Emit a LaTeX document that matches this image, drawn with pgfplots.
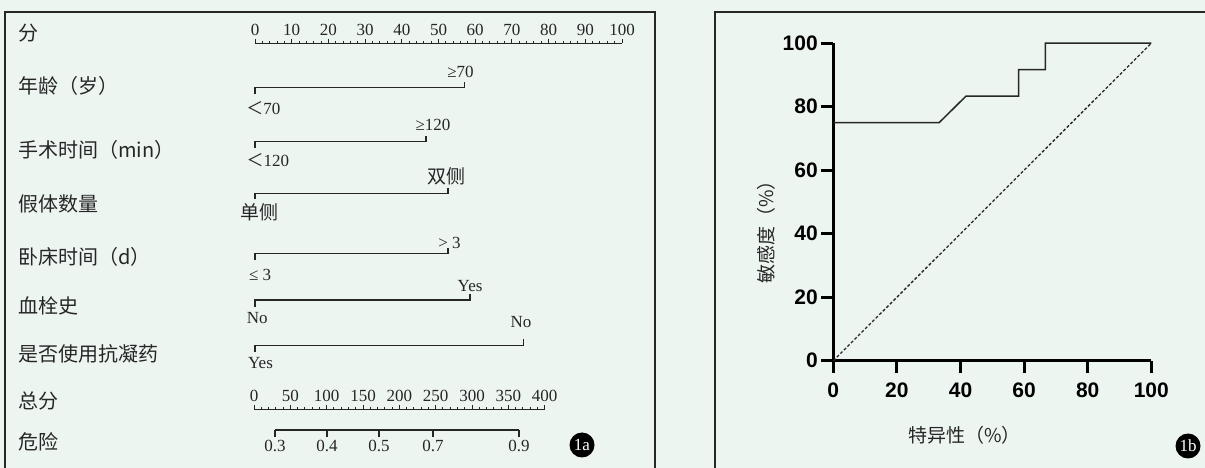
\documentclass[border=0pt]{standalone}
\usepackage{pgfplots}
\pgfplotsset{compat=1.18}
\usepackage{fontspec}
\setmainfont{Liberation Serif}
\newfontfamily\cjk{Noto Sans CJK SC}
\newfontfamily\arial{Liberation Sans}
\definecolor{bg}{RGB}{237,245,241}
\definecolor{ink}{RGB}{38,38,38}
\begin{document}
\begin{tikzpicture}[x=1pt,y=1pt]
\useasboundingbox (0,0) rectangle (1205,468);
\fill[bg] (0,0) rectangle (1205,468);
% panel frames
\draw[ink, line width=1.5pt] (5,-20) -- (5,456) -- (655,456) -- (655,-20);
\draw[ink, line width=1.5pt] (715,-20) -- (715,456) -- (1230,456);
% row labels
\begin{scope}[every node/.style={anchor=west, inner sep=0pt, font=\cjk\fontsize{20}{20}\selectfont, text=ink}]
\node at (18,468-33) {分};
\node at (18,468-86) {年龄（岁）};
\node at (18,468-150) {手术时间（min）};
\node at (18,468-204) {假体数量};
\node at (18,468-257) {卧床时间（d）};
\node at (18,468-306) {血栓史};
\node at (18,468-354) {是否使用抗凝药};
\node at (18,468-401) {总分};
\node at (18,468-442) {危险};
\end{scope}

% Points ruler
\begin{axis}[at={(255pt,424.7pt)}, anchor=north west, scale only axis,
  width=367pt, height=10pt, xmin=0, xmax=100, ymin=0, ymax=1,
  axis x line=top, hide y axis,
  x axis line style={-, line width=1.2pt, ink},
  xtick distance=10, minor x tick num=4,
  tick align=outside, major tick length=4.5pt, minor tick length=2.5pt,
  every tick/.style={ink, line width=1pt},
  xticklabel style={font=\fontsize{17}{17}\selectfont, text=ink, inner sep=0pt, yshift=3pt},
  /pgf/number format/assume math mode=true]
\end{axis}

% Variable rows (x in points, y in pixel rows)
\begin{axis}[at={(255pt,0pt)}, anchor=south west, scale only axis,
  width=367pt, height=468pt, xmin=0, xmax=100, ymin=0, ymax=468,
  y dir=reverse, hide axis, clip=false]
\addplot[ink, line width=1.2pt] coordinates {(0,94.5)(0,87.5)(57.0,87.5)(57.0,82.5)};
\addplot[ink, line width=1.2pt] coordinates {(0,148.5)(0,141.7)(46.6,141.7)(46.6,136.5)};
\addplot[ink, line width=1.2pt] coordinates {(0,199.5)(0,193.3)(52.6,193.3)(52.6,188)};
\addplot[ink, line width=1.2pt] coordinates {(0,260)(0,253.3)(52.6,253.3)(52.6,248)};
\addplot[ink, line width=1.2pt] coordinates {(0,306.5)(0,300)(58.6,300)(58.6,293.5)};
\addplot[ink, line width=1.2pt] coordinates {(0,351.5)(0,345.7)(73.2,345.7)(73.2,339)};
\begin{scope}[every node/.style={inner sep=0pt, text=ink, font=\fontsize{17}{17}\selectfont}]
\node at (axis cs:56.0,72) {≥70};
\node at (axis cs:2.3,108) {{\cjk ＜}70};
\node at (axis cs:48.5,125) {≥120};
\node at (axis cs:3.5,160.5) {{\cjk ＜}120};
\node[font=\cjk\fontsize{19}{19}\selectfont] at (axis cs:52.3,176) {双侧};
\node[font=\cjk\fontsize{19}{19}\selectfont] at (axis cs:1.2,212) {单侧};
\node at (axis cs:53.0,242.5) {> 3};
\node at (axis cs:1.4,275) {≤ 3};
\node at (axis cs:58.6,286) {Yes};
\node at (axis cs:0.6,318) {No};
\node at (axis cs:72.5,322) {No};
\node at (axis cs:1.5,363) {Yes};
\end{scope}
\end{axis}

% Total points ruler
\begin{axis}[at={(254pt,58.7pt)}, anchor=north west, scale only axis,
  width=290.7pt, height=10pt, xmin=0, xmax=400, ymin=0, ymax=1,
  axis x line=top, hide y axis,
  x axis line style={-, line width=1.2pt, ink},
  xtick distance=50, minor x tick num=4,
  tick align=outside, major tick length=4.5pt, minor tick length=2.5pt,
  every tick/.style={ink, line width=1pt},
  xticklabel style={font=\fontsize{17}{17}\selectfont, text=ink, inner sep=0pt, yshift=3pt},
  /pgf/number format/assume math mode=true]
\end{axis}

% Risk axis (tick positions in total points)
\begin{axis}[at={(275pt,38pt)}, anchor=south west, scale only axis,
  width=244pt, height=10pt, xmin=28.8, xmax=363.5, ymin=0, ymax=1,
  axis x line=bottom, hide y axis,
  x axis line style={-, line width=1.2pt, ink},
  xtick={28.8,100.1,171.5,245.5,363.5}, xticklabels={0.3,0.4,0.5,0.7,0.9},
  tick align=outside, major tick length=7pt,
  every tick/.style={ink, line width=1.2pt},
  xticklabel style={font=\fontsize{17}{17}\selectfont, text=ink, inner sep=0pt, yshift=-3pt},
  /pgf/number format/assume math mode=true]
\end{axis}

% ROC
\begin{axis}[at={(833.3pt,107.3pt)}, anchor=south west, scale only axis,
  width=318pt, height=317.5pt, xmin=0, xmax=100, ymin=0, ymax=100,
  axis x line*=bottom, axis y line*=left,
  axis line style={-, line width=3pt, black},
  xtick={0,20,...,100}, ytick={0,20,...,100},
  xtick align=outside, ytick align=outside, major tick length=12pt,
  xtick style={draw=black, line width=3pt},
  ytick style={draw=black, line width=3pt},
  tick label style={font=\arial\bfseries\fontsize{21}{21}\selectfont, text=black},
  xticklabel style={yshift=-7pt},
  /pgf/number format/assume math mode=true, clip=false]
\addplot[black!85, line width=1.5pt] coordinates {(0,75)(33.3,75)(41.7,83.3)(58.3,83.3)(58.3,91.7)(66.7,91.7)(66.7,100)(100,100)};
\addplot[black!85, line width=1.3pt, dash pattern=on 3pt off 2pt] coordinates {(0,0)(100,100)};
\node[font=\cjk\fontsize{19}{19}\selectfont, text=ink, inner sep=0pt] at (axis cs:41.3,-23.5) {特异性（\%）};
\node[font=\cjk\fontsize{19}{19}\selectfont, text=ink, inner sep=0pt, rotate=90] at (axis cs:-21,42) {敏感度（\%）};
\end{axis}

% badges
\node[circle, fill=black, text=white, inner sep=0pt, minimum size=25pt, font=\fontsize{17}{17}\selectfont] at (582,468-445) {1a};
\node[circle, fill=black, text=white, inner sep=0pt, minimum size=25pt, font=\fontsize{17}{17}\selectfont] at (1188,468-446) {1b};
\end{tikzpicture}
\end{document}
